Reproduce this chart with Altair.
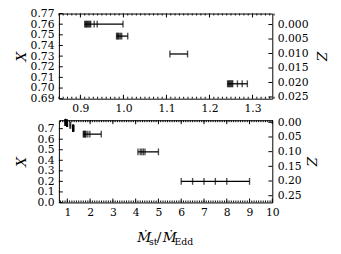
import altair as alt
import pandas as pd

# ---- data ----
row_X = [0.76, 0.7488, 0.732, 0.704, 0.648, 0.48, 0.2]
row_Z = [0.0, 0.004, 0.01, 0.02, 0.04, 0.1, 0.2]
row_M = [
    [0.910, 0.912, 0.914, 0.916, 0.918, 0.920, 0.922, 0.924, 0.932, 0.939, 0.999],
    [0.984, 0.986, 0.988, 0.990, 0.993, 0.996, 1.010],
    [1.108, 1.149],
    [1.242, 1.244, 1.246, 1.248, 1.250, 1.252, 1.254, 1.265, 1.276, 1.288],
    [1.70, 1.73, 1.76, 1.79, 1.82, 1.90, 1.99, 2.49],
    [4.10, 4.20, 4.27, 4.34, 4.41, 5.00],
    [6.0, 6.5, 7.0, 7.5, 8.0, 9.0],
]
top_rows = [0, 1, 2, 3]
all_rows = [0, 1, 2, 3, 4, 5, 6]

top_x_ticks = [0.9, 1.0, 1.1, 1.2, 1.3]
top_y_ticks = [0.69, 0.70, 0.71, 0.72, 0.73, 0.74, 0.75, 0.76, 0.77]
top_z_ticks = [0.000, 0.005, 0.010, 0.015, 0.020, 0.025]
bot_x_ticks = [1, 2, 3, 4, 5, 6, 7, 8, 9, 10]
bot_y_ticks = [0.0, 0.1, 0.2, 0.3, 0.4, 0.5, 0.6, 0.7]
bot_z_ticks = [0.00, 0.05, 0.10, 0.15, 0.20, 0.25]
title_parts = ["Ṁ", "st", "/", "Ṁ", "Edd"]

top_minor = [round(0.85 + 0.01 * i, 2) for i in range(51)]
bot_minor = [round(0.7 + 0.1 * i, 1) for i in range(94)]

FONT = "DejaVu Serif"


def long_df(rows):
    recs = []
    for r in rows:
        for m in row_M[r]:
            recs.append({"row": r, "X": row_X[r], "Z": row_Z[r], "M": m})
    return pd.DataFrame(recs)


def lab_axis(orient, values, fmt, pad, **kw):
    return alt.Axis(orient=orient, values=values, format=fmt, labels=True,
                    ticks=False, tickSize=0, domain=False, grid=False,
                    labelFont=FONT, labelFontSize=11, labelColor="black",
                    labelPadding=pad, labelOverlap=False, labelFlush=False, **kw)


def xdeco(values, xs, y0, y1):
    return alt.Chart(pd.DataFrame({"v": values})).mark_rule(
        color="black", strokeWidth=1).encode(
        x=alt.X("v:Q", scale=xs, axis=None), y=alt.value(y0), y2=alt.value(y1))


def ydeco(values, ys, x0, x1):
    return alt.Chart(pd.DataFrame({"v": values})).mark_rule(
        color="black", strokeWidth=1).encode(
        y=alt.Y("v:Q", scale=ys, axis=None), x=alt.value(x0), x2=alt.value(x1))


def panel(rows, xdom, ydom, zdom, xt, xminor, yt, zt, xfmt, yfmt, zfmt,
          w, h, ytx, ztx):
    df = long_df(rows)
    base = alt.Chart(df)
    xs = alt.Scale(domain=xdom, nice=False, zero=False)
    ys = alt.Scale(domain=ydom, nice=False, zero=False)
    zs = alt.Scale(domain=zdom, nice=False, zero=False, reverse=True)
    title_style = dict(titleFont=FONT, titleFontSize=14, titleFontStyle="italic",
                       titleFontWeight="normal", titleColor="black",
                       titleBaseline="middle")
    rule = base.mark_rule(color="black", strokeWidth=1.3).encode(
        x=alt.X("min(M):Q", scale=xs, axis=lab_axis("bottom", xt, xfmt, 4, title=None)),
        x2=alt.X2("max(M)"),
        y=alt.Y("X:Q", scale=ys,
                axis=lab_axis("left", yt, yfmt, 5, title="X", titleX=ytx, **title_style)),
    )
    ticks = base.mark_tick(color="black", thickness=1.4, size=7).encode(
        x=alt.X("M:Q", scale=xs, axis=None),
        y=alt.Y("X:Q", scale=ys, axis=None),
    )
    zlab = base.mark_point(opacity=0).encode(
        x=alt.X("M:Q", scale=xs, axis=None),
        y=alt.Y("Z:Q", scale=zs,
                axis=lab_axis("right", zt, zfmt, 5, title="Z", titleX=ztx, **title_style)),
    )
    deco = [
        xdeco(xt, xs, h - 4, h), xdeco(xminor, xs, h - 2, h),
        xdeco(xt, xs, 0, 4), xdeco(xminor, xs, 0, 2),
        ydeco(yt, ys, 0, 4), ydeco(zt, zs, w - 4, w),
    ]
    return [rule, ticks, zlab] + deco, w, h


top_layers, tw, th = panel(top_rows, [0.85, 1.346], [0.69, 0.77], [-0.0038, 0.0256],
                           top_x_ticks, top_minor, top_y_ticks, top_z_ticks,
                           ".1f", ".2f", ".3f", 218, 87, -38, 49)
bot_layers, bw, bh = panel(all_rows, [0.63, 10.0], [0.0, 0.78], [-0.007, 0.273],
                           bot_x_ticks, bot_minor, bot_y_ticks, bot_z_ticks,
                           "d", ".1f", ".2f", 218, 84, -38, 39)

# composed x-axis title  (M-dot_st / M-dot_Edd)
tdf = pd.DataFrame({"t": title_parts})
pos = [(80, 124, 14, "italic"), (92, 127, 9.5, "normal"), (100, 124, 14, "normal"),
       (106, 124, 14, "italic"), (118, 127, 9.5, "normal")]
title_layers = []
for i, (px, py, fs, st) in enumerate(pos):
    title_layers.append(
        alt.Chart(tdf.iloc[[i]]).mark_text(align="left", baseline="alphabetic",
                                           font=FONT, fontSize=fs, fontStyle=st,
                                           color="black")
        .encode(x=alt.value(px), y=alt.value(py), text="t:N")
    )

top = alt.layer(*top_layers).resolve_scale(x="independent", y="independent") \
    .properties(width=tw, height=th)
bottom = alt.layer(*bot_layers, *title_layers).resolve_scale(x="independent", y="independent") \
    .properties(width=bw, height=bh)

chart = alt.vconcat(top, bottom, spacing=1).properties(
    padding={"left": 6, "top": -4, "right": 5, "bottom": 5},
    background="white",
).configure_view(stroke="black", strokeWidth=1)

chart.save("out.html", embed_options={"renderer": "svg", "actions": False})
